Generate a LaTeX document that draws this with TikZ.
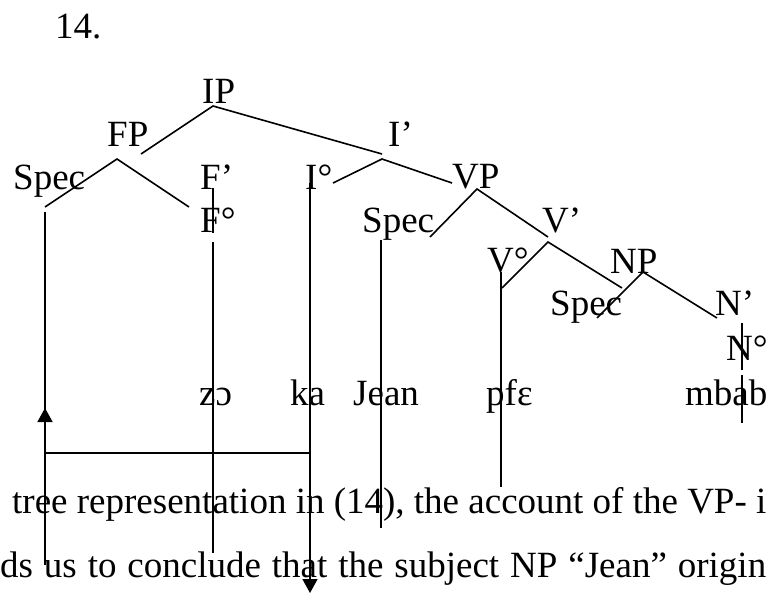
\documentclass[tikz,border=0pt]{standalone}
\usepackage{fontspec}
\setmainfont{Liberation Serif}
\usetikzlibrary{arrows.meta}
\begin{document}
\begin{tikzpicture}[x=1pt,y=-1pt,
  lbl/.style={inner sep=0pt, anchor=base west, font=\fontsize{37}{44}\selectfont},
  branch/.style={line width=1.6pt},
  tiparrow/.style={line width=1.6pt,-{Triangle[width=15pt,length=14pt]}}]
\useasboundingbox (0,0) rectangle (767,592);
% labels
\node[lbl] (num) at (55,38) {14.};
\node[lbl] (IP) at (202,103) {IP};
\node[lbl] (FP) at (107,146) {FP};
\node[lbl] (Ibar) at (388,146) {I’};
\node[lbl] (SpecF) at (13,189) {Spec};
\node[lbl] (Fbar) at (200,189) {F’};
\node[lbl] (Izero) at (305,189) {I°};
\node[lbl] (VP) at (452,188) {VP};
\node[lbl] (Fzero) at (200,232) {F°};
\node[lbl] (SpecV) at (362,232) {Spec};
\node[lbl] (Vbar) at (542,232) {V’};
\node[lbl] (Vzero) at (487,272) {V°};
\node[lbl] (NP) at (610,273) {NP};
\node[lbl] (SpecN) at (550,315) {Spec};
\node[lbl] (Nbar) at (715,315) {N’};
\node[lbl] (Nzero) at (726,360) {N°};
\node[lbl] (wzo) at (199,405) {zɔ};
\node[lbl] (wka) at (290,405) {ka};
\node[lbl] (wjean) at (353,405) {Jean};
\node[lbl] (wpfe) at (486,405) {pfɛ};
\node[lbl] (wmbab) at (685,405) {mbab};
\node[lbl] (line1) at (12,513) {tree representation in (14), the account of the VP- i};
\node[lbl] (line2) at (0,577) {\spaceskip=10.9pt\relax ds us to conclude that the subject NP “Jean” origin};
% branch end points
\coordinate (ipB) at (213,106);
\coordinate (fpT) at (141,154);
\coordinate (ibT) at (382,154);
\coordinate (fpB) at (117,159);
\coordinate (specfT) at (45,207);
\coordinate (fbarT) at (189,207);
\coordinate (ibB) at (382,159);
\coordinate (izeroT) at (333,183);
\coordinate (vpT) at (452,183);
\coordinate (vpB) at (477,189);
\coordinate (specvT) at (430,237);
\coordinate (vbarT) at (548,237);
\coordinate (vbarB) at (548,242);
\coordinate (vzeroT) at (502,288);
\coordinate (npT) at (622,288);
\coordinate (npB) at (643,272);
\coordinate (specnT) at (597,318);
\coordinate (nbarT) at (717,318);
% vertical line end points
\coordinate (specfB) at (45,212);
\coordinate (specfEnd) at (45,565);
\coordinate (fA) at (213,188);
\coordinate (fB) at (213,233);
\coordinate (fC) at (213,242);
\coordinate (fEnd) at (213,553);
\coordinate (iA) at (310,183);
\coordinate (iMid) at (310,453);
\coordinate (iEnd) at (310,593);
\coordinate (svA) at (381,240);
\coordinate (svEnd) at (381,528);
\coordinate (vzA) at (501,272);
\coordinate (vzEnd) at (501,487);
\coordinate (nA) at (742,323);
\coordinate (nB) at (742,370);
\coordinate (nC) at (742,375);
\coordinate (nEnd) at (742,423);
\coordinate (sMid) at (45,453);
\coordinate (sUp) at (45,408);
% tree branches
\draw[branch] (fpT) -- (ipB) -- (ibT);
\draw[branch] (specfT) -- (fpB) -- (fbarT);
\draw[branch] (izeroT) -- (ibB) -- (vpT);
\draw[branch] (specvT) -- (vpB) -- (vbarT);
\draw[branch] (vzeroT) -- (vbarB) -- (npT);
\draw[branch] (specnT) -- (npB) -- (nbarT);
% vertical lines
\draw[branch] (specfB) -- (specfEnd);
\draw[branch] (fA) -- (fB);
\draw[branch] (fC) -- (fEnd);
\draw[branch] (iA) -- (iMid);
\draw[branch] (svA) -- (svEnd);
\draw[branch] (vzA) -- (vzEnd);
\draw[branch] (nA) -- (nB);
\draw[branch] (nC) -- (nEnd);
% movement
\draw[branch] (sMid) -- (iMid);
\draw[tiparrow] (sMid) -- (sUp);
\draw[tiparrow] (iMid) -- (iEnd);
\end{tikzpicture}
\end{document}
